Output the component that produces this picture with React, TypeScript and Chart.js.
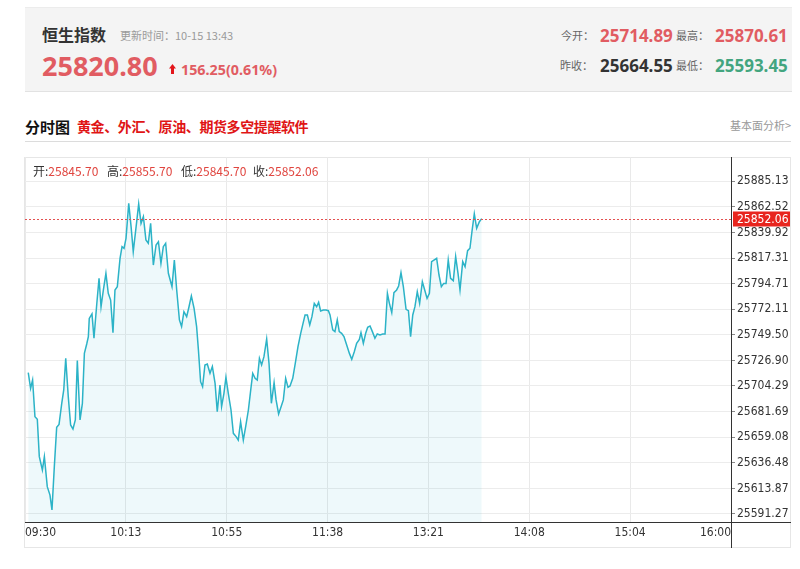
import React, { useEffect, useRef } from "react";
import { Chart, registerables } from "chart.js";

Chart.register(...registerables);

// minutes since 09:30 (axis spans 09:30 – 16:00)
const times = [
  1.8, 3.1, 4.2, 5.5, 6.8, 7.9, 9.6, 10.7, 12.3, 13.8, 14.9, 16.2, 17.5, 18.8, 20.3, 21.4, 22.5, 23.9, 25.2, 26.5,
  27.8, 28.9, 30.4, 31.7, 32.8, 34.1, 35.0, 35.5, 37.0, 38.1, 39.6, 40.9, 42.0, 43.3, 44.7, 46.0, 47.3, 48.6, 49.7, 51.0,
  52.5, 53.6, 54.7, 55.8, 57.3, 58.6, 59.8, 61.7, 62.8, 64.1, 65.4, 66.8, 68.1, 69.4, 70.9, 72.4, 73.7, 75.1, 76.4, 77.7,
  79.2, 81.2, 82.5, 83.8, 85.3, 86.5, 87.8, 89.3, 90.6, 91.9, 93.4, 94.8, 95.8, 97.0, 98.1, 99.4, 100.7, 102.2, 103.5, 105.0,
  106.2, 107.7, 108.6, 109.9, 111.0, 112.3, 113.8, 115.1, 116.6, 117.8, 119.1, 120.6, 121.9, 123.4, 124.7, 125.8, 127.1, 128.3, 129.5, 130.7,
  132.0, 133.5, 134.8, 136.1, 137.6, 138.7, 140.1, 141.6, 142.7, 144.0, 145.3, 146.4, 147.9, 149.3, 150.8, 152.3, 153.4, 154.7, 156.0, 157.3,
  158.5, 159.8, 161.1, 162.2, 163.3, 164.8, 166.3, 167.6, 168.5, 170.0, 171.2, 172.5, 173.6, 174.9, 176.2, 177.7, 179.2, 180.5, 181.9, 183.2,
  184.7, 185.6, 186.9, 188.2, 189.3, 190.6, 191.9, 193.3, 194.6, 196.1, 197.6, 198.9, 200.2, 201.3, 202.6, 203.8, 205.3, 206.4, 207.7, 209.0,
  210.5, 211.8, 213.0, 214.2, 215.4, 216.7, 218.0, 219.5, 220.8, 222.1, 223.4, 224.6, 225.9, 227.4, 228.7, 230.0, 231.3, 232.6, 233.8, 235.1,
  236.6, 237.9, 239.2, 240.3, 241.8, 243.1, 244.5, 245.8, 246.9, 248.2, 249.5, 251.0, 252.3,
];

const prices = [
  25716.1, 25702.3, 25709.6, 25677.2, 25674.9, 25641.9, 25630.1, 25641.9, 25615.4, 25608.0, 25594.8, 25633.1, 25667.8, 25670.4, 25689.0, 25700.8, 25728.7, 25694.9, 25669.9, 25666.3,
  25674.3, 25726.7, 25674.3, 25689.0, 25733.1, 25741.4, 25747.9, 25764.0, 25767.9, 25746.4, 25775.8, 25799.4, 25774.3, 25789.1, 25803.8, 25786.1, 25780.2, 25751.4, 25789.1, 25792.0,
  25817.0, 25827.3, 25825.9, 25834.7, 25865.6, 25845.0, 25822.9, 25849.4, 25865.0, 25847.9, 25853.8, 25833.2, 25830.3, 25847.9, 25811.1, 25828.8, 25831.7, 25812.6, 25827.3, 25830.3,
  25803.8, 25792.0, 25815.5, 25789.1, 25762.6, 25756.7, 25769.9, 25765.5, 25774.3, 25783.8, 25772.9, 25756.7, 25736.1, 25708.1, 25703.7, 25722.8, 25723.7, 25715.5, 25721.4, 25706.6,
  25681.6, 25705.2, 25686.1, 25697.8, 25711.9, 25697.8, 25683.1, 25662.5, 25659.6, 25656.6, 25672.8, 25656.6, 25668.4, 25683.1, 25700.8, 25715.5, 25711.1, 25709.6, 25728.7, 25722.8,
  25730.2, 25745.8, 25724.3, 25689.0, 25707.2, 25692.0, 25679.6, 25686.7, 25692.0, 25711.1, 25703.1, 25704.3, 25711.1, 25724.3, 25739.1, 25750.8, 25758.2, 25767.0, 25767.0, 25758.2,
  25765.5, 25777.3, 25774.3, 25778.2, 25770.5, 25771.4, 25771.4, 25770.8, 25767.0, 25753.8, 25752.3, 25762.6, 25752.3, 25750.8, 25747.9, 25740.5, 25733.1, 25727.8, 25734.6, 25742.0,
  25745.5, 25751.4, 25742.0, 25750.8, 25756.1, 25757.3, 25752.3, 25746.4, 25750.2, 25749.4, 25750.2, 25750.2, 25786.1, 25777.3, 25769.1, 25786.7, 25789.1, 25792.6, 25804.4, 25792.0,
  25772.0, 25770.8, 25747.9, 25767.0, 25774.3, 25787.6, 25777.3, 25796.4, 25789.1, 25781.7, 25786.1, 25814.1, 25815.5, 25817.0, 25802.3, 25792.0, 25794.9, 25794.9, 25815.5, 25799.4,
  25797.3, 25818.5, 25803.8, 25789.1, 25814.1, 25809.7, 25823.8, 25825.9, 25840.6, 25856.2, 25843.5, 25849.4, 25852.06,
];

const xTickLabels = ["09:30", "10:13", "10:55", "11:38", "13:21", "14:08", "15:04", "16:00"];
const yTickValues = [
  25591.27, 25613.87, 25636.48, 25659.08, 25681.69, 25704.29, 25726.9,
  25749.5, 25772.11, 25794.71, 25817.31, 25839.92, 25862.52, 25885.13,
];
const sessionMinutes = 390;
const yMin = 25584.2;
const yMax = 25906.5;
const lastPrice = 25852.06;

const ohlcLabels = ["开", "高", "低", "收"];
const ohlcValues = ["25845.70", "25855.70", "25845.70", "25852.06"];

const indexName = "恒生指数";
const updateTime = "更新时间：10-15 13:43";
const currentValue = "25820.80";
const changeText = "156.25(0.61%)";
const statLabels = ["今开：", "最高：", "昨收：", "最低："];
const statValues = ["25714.89", "25870.61", "25664.55", "25593.45"];

const RED = "#e15c62";
const GREEN = "#43a57f";
const NARROW = '"Liberation Sans Narrow", "DejaVu Sans Condensed", "Liberation Sans", sans-serif';
const CJK = '"Noto Sans CJK SC", sans-serif';
const NUM = '"Noto Sans", "Noto Sans CJK SC", sans-serif';

const overlayPlugin = {
  id: "overlay",
  afterDraw(chart: any) {
    const { ctx, chartArea, scales } = chart;
    const y = Math.round(scales.y.getPixelForValue(lastPrice)) + 0.5;
    ctx.save();
    ctx.lineWidth = 1;
    ctx.strokeStyle = "#333";
    ctx.beginPath();
    const rx = Math.round(chartArea.right) + 0.5;
    ctx.moveTo(rx, 0);
    ctx.lineTo(rx, chart.height);
    const by = Math.round(chartArea.bottom) + 0.5;
    ctx.moveTo(chartArea.left, by);
    ctx.lineTo(chart.width, by);
    ctx.stroke();

    ctx.strokeStyle = "#e25050";
    ctx.setLineDash([2, 2]);
    ctx.beginPath();
    ctx.moveTo(chartArea.left, y);
    ctx.lineTo(chartArea.right, y);
    ctx.stroke();
    ctx.setLineDash([]);

    ctx.fillStyle = "#e8251e";
    ctx.fillRect(chartArea.right + 2, y - 8, chart.width - chartArea.right - 3, 15);
    ctx.fillStyle = "#fff";
    ctx.font = "12px " + NARROW;
    ctx.textBaseline = "middle";
    ctx.textAlign = "left";
    ctx.fillText(lastPrice.toFixed(2), chartArea.right + 6, y);
    ctx.restore();
  },
};

function T(props: any) {
  const { x, right, y, size, color, weight, family, children, ls } = props;
  const style: any = {
    position: "absolute",
    top: y,
    transform: "translateY(-50%)",
    fontSize: size,
    lineHeight: 1,
    color,
    fontWeight: weight || "normal",
    fontFamily: family || CJK,
    whiteSpace: "nowrap",
    letterSpacing: ls || 0,
  };
  if (right !== undefined) style.right = right;
  else style.left = x;
  return <span style={style}>{children}</span>;
}

export default function App() {
  const ref = useRef<HTMLCanvasElement | null>(null);

  useEffect(() => {
    if (!ref.current) return;
    const chart = new Chart(ref.current, {
      type: "line",
      data: {
        datasets: [
          {
            data: times.map((t, i) => ({ x: t, y: prices[i] })),
            borderColor: "#2cb3c7",
            borderWidth: 1.5,
            backgroundColor: "rgba(44,179,199,0.08)",
            fill: "start",
            pointRadius: 0,
            tension: 0,
          },
        ],
      },
      options: {
        animation: false,
        responsive: false,
        maintainAspectRatio: false,
        layout: { padding: { left: 1, right: 0, top: 0, bottom: 0 } },
        plugins: { legend: { display: false }, tooltip: { enabled: false } },
        scales: {
          x: {
            type: "linear",
            min: 0,
            max: sessionMinutes,
            afterBuildTicks: (s: any) => {
              s.ticks = xTickLabels.map((_, i) => ({ value: (i * sessionMinutes) / (xTickLabels.length - 1) }));
            },
            afterFit: (s: any) => {
              s.height = 26;
              s.paddingLeft = 0;
              s.paddingRight = 0;
            },
            ticks: {
              align: "inner",
              autoSkip: false,
              maxRotation: 0,
              padding: 4,
              color: "#333",
              font: { family: NARROW, size: 12 },
              callback: (_v: any, i: number) => xTickLabels[i],
            },
            grid: { color: "#e9e9e9", drawTicks: false },
            border: { color: "#333" },
          },
          y: {
            position: "right",
            min: yMin,
            max: yMax,
            afterBuildTicks: (s: any) => {
              s.ticks = yTickValues.map((v) => ({ value: v }));
            },
            afterFit: (s: any) => {
              s.width = 60;
              s.paddingTop = 0;
              s.paddingBottom = 0;
            },
            ticks: {
              padding: 2,
              color: "#333",
              font: { family: NARROW, size: 12 },
              callback: (v: any) => Number(v).toFixed(2),
            },
            grid: { color: "#ececec", tickLength: 4, tickColor: "#888" },
            border: { color: "#333" },
          },
        },
      },
      plugins: [overlayPlugin],
    } as any);
    return () => chart.destroy();
  }, []);

  const ohlcX = [33, 107, 181, 253];

  return (
    <div style={{ position: "absolute", left: 0, top: 0, width: 800, height: 569, background: "#fff", overflow: "hidden" }}>
      <div
        style={{
          position: "absolute",
          left: 25,
          top: 7,
          width: 767,
          height: 85,
          background: "#f4f4f4",
          borderTop: "1px solid #ececec",
          borderBottom: "1px solid #e2e2e2",
          boxSizing: "border-box",
        }}
      />
      <T x={42} y={34} size={16} color="#333" weight="bold">{indexName}</T>
      <T x={120} y={35} size={11} color="#9a9a9a">{updateTime}</T>
      <T x={42} y={65} size={27} color={RED} weight="bold" family={NUM}>{currentValue}</T>
      <svg style={{ position: "absolute", left: 169, top: 64 }} width={7} height={10} viewBox="0 0 7 10">
        <polygon points="3.5,0 7,4.5 5,4.5 5,10 2,10 2,4.5 0,4.5" fill="#e3161b" />
      </svg>
      <T x={181} y={70} size={14.3} color={RED} weight="bold" family={NUM}>{changeText}</T>

      <T x={561} y={35} size={11} color="#666">{statLabels[0]}</T>
      <T x={600} y={35} size={17} color={RED} weight="bold" family={NUM}>{statValues[0]}</T>
      <T x={676} y={35} size={11} color="#666">{statLabels[1]}</T>
      <T x={715} y={35} size={17} color={RED} weight="bold" family={NUM}>{statValues[1]}</T>
      <T x={560} y={65} size={11} color="#666">{statLabels[2]}</T>
      <T x={600} y={65} size={17} color="#333" weight="bold" family={NUM}>{statValues[2]}</T>
      <T x={676} y={65} size={11} color="#666">{statLabels[3]}</T>
      <T x={715} y={65} size={17} color={GREEN} weight="bold" family={NUM}>{statValues[3]}</T>

      <T x={25} y={126} size={15} color="#111" weight="bold">分时图</T>
      <T x={77} y={126} size={14} color="#e01515" weight="bold" ls={-0.4}>黄金、外汇、原油、期货多空提醒软件</T>
      <T right={9} y={125} size={11} color="#999">基本面分析&gt;</T>
      <div style={{ position: "absolute", left: 25, top: 141, width: 766, height: 1, background: "#dcdcdc" }} />

      <div
        style={{
          position: "absolute",
          left: 24,
          top: 157,
          width: 767,
          height: 391,
          border: "1px solid #e6e6e6",
          boxSizing: "border-box",
        }}
      />
      <canvas
        ref={ref}
        width={767}
        height={391}
        style={{ position: "absolute", left: 24, top: 157, width: 767, height: 391 }}
      />
      {ohlcLabels.map((l, i) => (
        <span
          key={l}
          style={{
            position: "absolute",
            left: ohlcX[i],
            top: 171,
            transform: "translateY(-50%)",
            fontSize: 12,
            lineHeight: 1,
            fontFamily: CJK,
            whiteSpace: "nowrap",
          }}
        >
          <span style={{ color: "#333" }}>{l}:</span>
          <span style={{ color: "#e0453f" }}>{ohlcValues[i]}</span>
        </span>
      ))}
    </div>
  );
}
